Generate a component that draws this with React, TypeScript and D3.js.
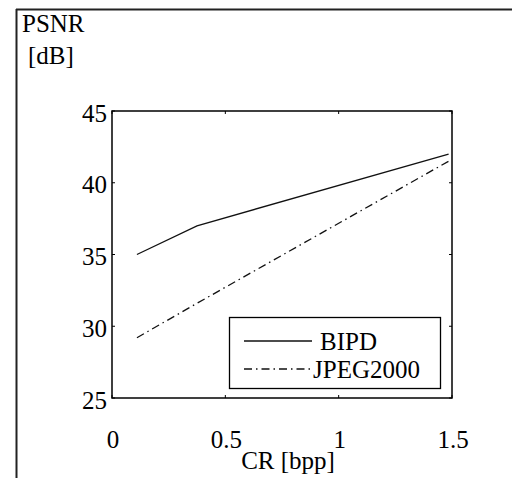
import React from "react";
import * as d3 from "d3";

// values
const crBpp = [0.11, 0.375, 1.485];
const bipd = [35, 37, 42];
const jpeg2000 = [29.2, 31.6, 41.5];

const xTicks = [0, 0.5, 1, 1.5];
const yTicks = [25, 30, 35, 40, 45];
const seriesNames = ["BIPD", "JPEG2000"];

const W = 512;
const H = 478;
const font = "'Liberation Serif', 'Times New Roman', serif";

export default function App() {
  // plot box
  const x = d3.scaleLinear().domain([0, 1.5]).range([112, 452]);
  const y = d3.scaleLinear().domain([25, 45]).range([398, 111]);

  const lineGen = d3
    .line<number>()
    .x((d, i) => x(crBpp[i]))
    .y((d) => y(d));

  const tick = 3;
  const [x0, x1] = x.range();
  const [y0, y1] = y.range();

  return (
    <svg
      width={W}
      height={H}
      style={{ position: "absolute", left: 0, top: 0, background: "#fff" }}
      fontFamily={font}
      fontSize={25}
    >
      {/* outer frame (only top and left are visible) */}
      <line x1={16} y1={9.5} x2={W} y2={9.5} stroke="#222" strokeWidth={2} />
      <line x1={16.5} y1={9} x2={16.5} y2={H} stroke="#222" strokeWidth={2} />

      {/* y label */}
      <text x={22} y={32}>PSNR</text>
      <text x={28} y={64}>[dB]</text>

      {/* series */}
      <path d={lineGen(bipd) || ""} fill="none" stroke="#111" strokeWidth={1.3} />
      <path
        d={lineGen(jpeg2000) || ""}
        fill="none"
        stroke="#111"
        strokeWidth={1.3}
        strokeDasharray="8,4,1.5,4"
      />

      {/* axes box */}
      <rect
        x={x0}
        y={y1}
        width={x1 - x0}
        height={y0 - y1}
        fill="none"
        stroke="#000"
        strokeWidth={1.5}
      />

      {/* x ticks */}
      {xTicks.map((t) => (
        <g key={"x" + t}>
          <line x1={x(t)} x2={x(t)} y1={y0} y2={y0 - tick} stroke="#000" />
          <line x1={x(t)} x2={x(t)} y1={y1} y2={y1 + tick} stroke="#000" />
          <text x={x(t) + 1} y={448} textAnchor="middle">
            {t}
          </text>
        </g>
      ))}

      {/* y ticks */}
      {yTicks.map((t) => (
        <g key={"y" + t}>
          <line x1={x0} x2={x0 + tick} y1={y(t)} y2={y(t)} stroke="#000" />
          <line x1={x1} x2={x1 - tick} y1={y(t)} y2={y(t)} stroke="#000" />
          <text x={107} y={y(t) + 10.7} textAnchor="end">
            {t}
          </text>
        </g>
      ))}

      <text x={288} y={469} textAnchor="middle">
        CR [bpp]
      </text>

      {/* legend */}
      <rect x={229.5} y={317.5} width={211} height={71} fill="#fff" stroke="#000" strokeWidth={1.3} />
      <line x1={244} x2={312} y1={341} y2={341} stroke="#111" strokeWidth={1.3} />
      <text x={320} y={350}>{seriesNames[0]}</text>
      <line
        x1={244}
        x2={312}
        y1={369}
        y2={369}
        stroke="#111"
        strokeWidth={1.3}
        strokeDasharray="8,4,1.5,4"
      />
      <text x={313} y={378}>{seriesNames[1]}</text>
    </svg>
  );
}
